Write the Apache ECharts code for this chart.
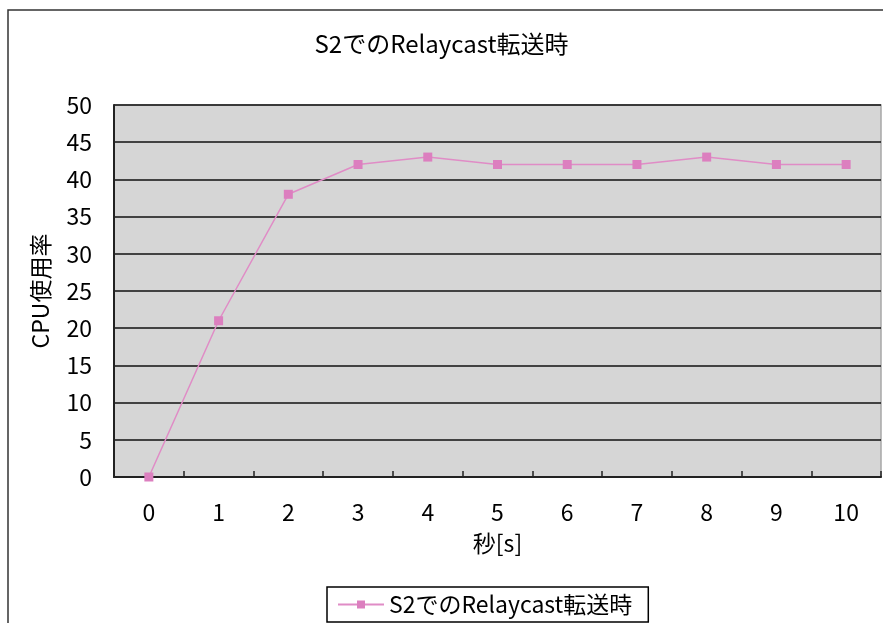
<!DOCTYPE html>
<html>
<head>
<meta charset="utf-8">
<script src="https://cdn.jsdelivr.net/npm/echarts@6/dist/echarts.min.js"></script>
<style>
  html, body { margin: 0; padding: 0; background: #fff; }
  #chart { width: 883px; height: 623px; }
</style>
</head>
<body>
<div id="chart"></div>
<script>
// Elapsed seconds and CPU usage during the S2 Relaycast transfer
const seconds = ['0', '1', '2', '3', '4', '5', '6', '7', '8', '9', '10'];
const cpuUsage = [0, 21, 38, 42, 43, 42, 42, 42, 43, 42, 42];
const seriesName = 'S2でのRelaycast転送時';

const font = '"Noto Sans CJK JP", "Noto Sans", sans-serif';
const chart = echarts.init(document.getElementById('chart'), null, { renderer: 'canvas' });

chart.setOption({
  animation: false,
  backgroundColor: '#ffffff',
  textStyle: { fontFamily: font, color: '#000' },
  graphic: [
    {
      // outer chart frame
      type: 'rect',
      shape: { x: 8, y: 10, width: 890, height: 640 },
      style: { fill: 'none', stroke: '#333', lineWidth: 1.5 },
      z: -1
    }
  ],
  title: {
    text: seriesName,
    left: 'center',
    top: 27,
    textStyle: { fontFamily: font, fontSize: 24, fontWeight: 'normal', color: '#000' }
  },
  legend: {
    data: [seriesName],
    bottom: 1,
    left: 327,
    padding: [6, 16, 6, 10],
    borderColor: '#000',
    borderWidth: 1.5,
    itemWidth: 46,
    itemHeight: 10,
    itemGap: 8,
    textStyle: { fontFamily: font, fontSize: 23, color: '#000' }
  },
  grid: {
    left: 114,
    right: 2,
    top: 105,
    bottom: 146,
    show: true,
    backgroundColor: '#d6d6d6',
    borderColor: '#a8a8a8',
    borderWidth: 1.5
  },
  xAxis: {
    type: 'category',
    data: seconds,
    boundaryGap: true,
    name: '秒[s]',
    nameLocation: 'middle',
    nameGap: 55,
    nameTextStyle: { fontFamily: font, fontSize: 23, color: '#000' },
    axisLine: { show: true, lineStyle: { color: '#222', width: 2 } },
    axisTick: { show: true, inside: true, length: 6, lineStyle: { color: '#222', width: 1.5 } },
    axisLabel: { fontFamily: font, fontSize: 23, color: '#000', margin: 24 },
    splitLine: { show: false }
  },
  yAxis: {
    type: 'value',
    min: 0,
    max: 50,
    interval: 5,
    name: 'CPU使用率',
    nameLocation: 'middle',
    nameGap: 62,
    nameRotate: 90,
    nameTextStyle: { fontFamily: font, fontSize: 23, color: '#000' },
    axisLine: { show: true, lineStyle: { color: '#222', width: 2 } },
    axisTick: { show: false },
    axisLabel: { fontFamily: font, fontSize: 23, color: '#000', margin: 22 },
    splitLine: { show: true, lineStyle: { color: '#111', width: 1.5 } }
  },
  series: [
    {
      name: seriesName,
      type: 'line',
      data: cpuUsage,
      symbol: 'rect',
      symbolSize: 9,
      itemStyle: { color: '#dc7fbf' },
      lineStyle: { color: '#e08cc6', width: 1.5 }
    }
  ]
});
</script>
</body>
</html>
